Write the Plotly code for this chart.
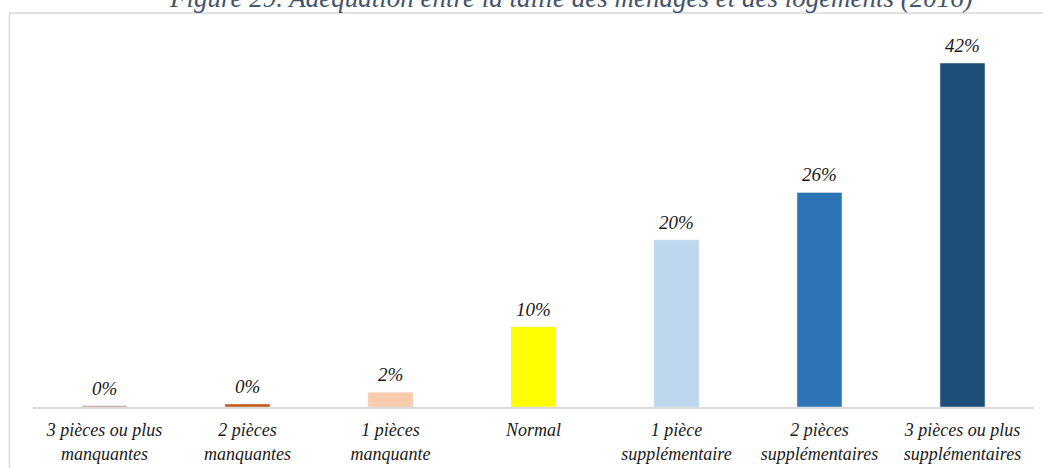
import plotly.graph_objects as go

categories = [
    "3 pièces ou plus<br>manquantes",
    "2 pièces<br>manquantes",
    "1 pièces<br>manquante",
    "Normal",
    "1 pièce<br>supplémentaire",
    "2 pièces<br>supplémentaires",
    "3 pièces ou plus<br>supplémentaires",
]
values = [0.15, 0.37, 1.8, 9.8, 20.4, 26.2, 42.0]
labels = ["0%", "0%", "2%", "10%", "20%", "26%", "42%"]
colors = ["#C4977C", "#C55A11", "#F8CBAD", "#FFFF00", "#BDD7EE", "#2E75B6", "#1F4E79"]
title_text = "Figure 29. Adéquation entre la taille des ménages et des logements (2016)"

W, H = 1043, 468
L, R, T, B = 33, 9, 30, 61
plot_h = H - T - B

def py(p):
    return (H - B - p) / plot_h

def px(p):
    return (p - L) / (W - L - R)

fig = go.Figure(go.Bar(
    x=categories, y=values, marker_color=colors, width=0.315,
    hoverinfo="skip",
))

font_fam = "Liberation Serif"
for c, v, t in zip(categories, values, labels):
    fig.add_annotation(x=c, y=v, text="<i>%s</i>" % t, showarrow=False,
                       yanchor="bottom", yshift=5,
                       font=dict(family=font_fam, size=19, color="#1a1a1a"))

fig.add_annotation(xref="paper", yref="paper", x=px(571), y=py(15),
                   xanchor="center", yanchor="bottom", showarrow=False,
                   text="<i>%s</i>" % title_text,
                   font=dict(family=font_fam, size=27, color="#44546A"))

# outer frame (light gray) top and left edges
fig.add_shape(type="rect", xref="paper", yref="paper",
              x0=px(9.5), y0=py(480), x1=px(1060), y1=py(13),
              line=dict(color="#D9D9D9", width=1.5), layer="below")

fig.update_layout(
    width=W, height=H,
    margin=dict(l=L, r=R, t=T, b=B),
    plot_bgcolor="white", paper_bgcolor="white",
    showlegend=False,
    xaxis=dict(showline=True, linecolor="#D9D9D9", linewidth=1.5,
               showgrid=False, ticks="", zeroline=False,
               tickfont=dict(family=font_fam, size=18, color="#1a1a1a"),
               ticklabelstandoff=6, automargin=False,
               fixedrange=True),
    yaxis=dict(visible=False, range=[0, plot_h / 8.19], fixedrange=True),
)
fig.update_xaxes(tickangle=0, ticktext=["<i>%s</i>" % c for c in categories],
                 tickvals=categories)

fig.write_html("out.html", config={"displayModeBar": False},
               post_script="document.body.style.margin='0';")
